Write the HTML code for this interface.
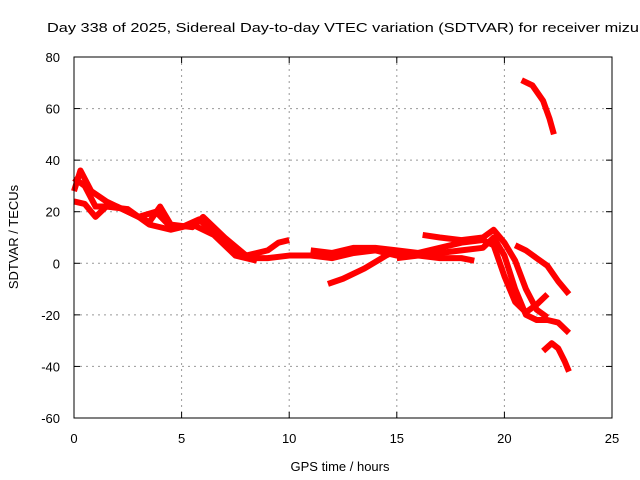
<!DOCTYPE html>
<html><head><meta charset="utf-8"><style>
body{margin:0;background:#fff}
svg{display:block;font-family:"Liberation Sans",sans-serif;font-size:13px}
</style></head><body>
<svg id="chart" width="640" height="480" viewBox="0 0 640 480">
<rect width="640" height="480" fill="#fff"/>
<text x="47" y="32" textLength="592" lengthAdjust="spacingAndGlyphs">Day 338 of 2025, Sidereal Day-to-day VTEC variation (SDTVAR) for receiver mizu</text>
<g id="grid"></g>
<g id="marks"></g>
<rect x="74" y="57" width="538" height="361" fill="none" stroke="#000" stroke-width="1"/>
<g id="ticks"></g>
<text x="340" y="471" text-anchor="middle">GPS time / hours</text>
<text transform="translate(18,237) rotate(-90)" text-anchor="middle">SDTVAR / TECUs</text>
</svg>
<script>
const xTicks=[0,5,10,15,20,25];
const yTicks=[-60,-40,-20,0,20,40,60,80];
const s1=[[0,33],[0.5,30],[1,22],[2,22],[3,18],[3.8,20],[4.5,14],[5,14],[5.8,17],[6.5,12],[7.5,5],[8.3,2],[9,2],[10,3],[11,3],[12,2],[13,4],[14,5],[15,3],[16,3],[17,4],[18,5],[19,6],[19.5,10],[20,3],[20.5,-10],[21,-20],[21.5,-22],[22,-22],[22.5,-23],[23,-27]];
const s2=[[0,28],[0.3,36],[0.8,28],[1.5,24],[2.5,20],[3.5,16],[4,22],[4.5,15],[5.5,14],[6,18],[7,10],[8,3],[9,5],[9.5,8],[10,9]];
const s3=[[0,24],[0.5,23],[1,18],[1.5,22],[2.5,21],[3.5,15],[4.5,13],[5.5,15],[6.5,11],[7.5,3],[8.5,1]];
const s4=[[11,5],[12,4],[13,6],[14,6],[15,5],[16,4],[17,6],[18,8],[19,9],[19.5,7],[20,-5],[20.5,-15],[21,-19],[21.5,-16],[22,-12]];
const s5=[[11.8,-8],[12.5,-6],[13.5,-2],[14.5,3],[15,5]];
const s6=[[16.2,11],[17,10],[18,9],[19,10],[19.5,13],[20,8],[20.5,1],[21,-10],[21.5,-18],[22,-21]];
const s7=[[20.8,71],[21.3,69],[21.8,63],[22.1,56],[22.3,50]];
const s8=[[20.5,7],[21,5],[21.5,2],[22,-1],[22.5,-7],[23,-12]];
const s9=[[21.8,-34],[22.2,-31],[22.5,-33],[22.8,-38],[23,-42]];
const s10=[[15,2],[16,3],[17,2],[18,2],[18.6,1]];
const series=[s1,s2,s3,s4,s5,s6,s7,s8,s9,s10];
const X0=74,X1=612,Y0=418,Y1=57,xMin=0,xMax=25,yMin=-60,yMax=80;
const sx=v=>X0+(v-xMin)/(xMax-xMin)*(X1-X0);
const sy=v=>Y0-(v-yMin)/(yMax-yMin)*(Y0-Y1);
const NS="http://www.w3.org/2000/svg";
const grid=document.getElementById('grid'),ticks=document.getElementById('ticks'),marks=document.getElementById('marks');
function mk(t,a,p){const e=document.createElementNS(NS,t);for(const k in a)e.setAttribute(k,a[k]);p.appendChild(e);return e;}
xTicks.forEach(v=>{
 const x=sx(v);
 if(v>xMin&&v<xMax){const g=mk('line',{x1:x,x2:x,y1:Y1,y2:Y0,stroke:'#999','stroke-dasharray':'2,4'},grid);
 
 }
 const t1=mk('line',{x1:x,x2:x,y1:Y0,y2:Y0-6,stroke:'#000'},ticks);
 
 
 const t2=mk('line',{x1:x,x2:x,y1:Y1,y2:Y1+6,stroke:'#000'},ticks);
 
 
 const l=mk('text',{x:x,y:443,'text-anchor':'middle'},ticks);l.textContent=v;
 
 
});
yTicks.forEach(v=>{
 const y=sy(v);
 if(v>yMin&&v<yMax){const g=mk('line',{x1:X0,x2:X1,y1:y,y2:y,stroke:'#999','stroke-dasharray':'2,4'},grid);
 
 }
 const t1=mk('line',{x1:X0,x2:X0+6,y1:y,y2:y,stroke:'#000'},ticks);
 
 
 const t2=mk('line',{x1:X1,x2:X1-6,y1:y,y2:y,stroke:'#000'},ticks);
 
 
 const l=mk('text',{x:X0-14,y:y+5,'text-anchor':'end'},ticks);l.textContent=v;
 
 
});
series.forEach((s,i)=>{
 const p=mk('polyline',{points:s.map(d=>sx(d[0])+','+sy(d[1])).join(' '),fill:'none',stroke:'#f00','stroke-width':6,'stroke-linejoin':'round','stroke-linecap':'butt'},marks);
 
 
});
</script>
</body></html>
